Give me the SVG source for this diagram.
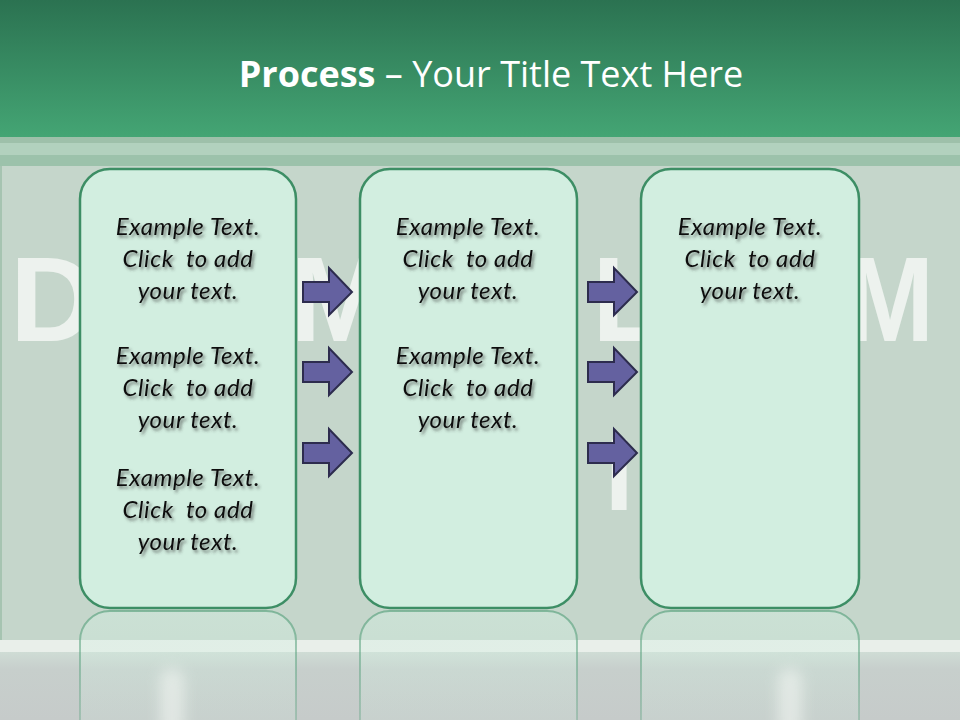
<svg xmlns="http://www.w3.org/2000/svg" width="960" height="720" viewBox="0 0 960 720">
<defs>
<linearGradient id="hdr" x1="0" y1="0" x2="0" y2="1">
<stop offset="0" stop-color="#2b7251"/>
<stop offset="1" stop-color="#44a574"/>
</linearGradient>
<linearGradient id="floor" x1="0" y1="0" x2="0" y2="1">
<stop offset="0" stop-color="#cfdcd5"/>
<stop offset="0.25" stop-color="#c7cfcc"/>
<stop offset="1" stop-color="#c6cbca"/>
</linearGradient>
<linearGradient id="refl" x1="0" y1="0" x2="0" y2="1">
<stop offset="0" stop-color="#d2eee0" stop-opacity="0.45"/>
<stop offset="1" stop-color="#d2eee0" stop-opacity="0.15"/>
</linearGradient>
<linearGradient id="reflStroke" x1="0" y1="0" x2="0" y2="1">
<stop offset="0" stop-color="#4f9c76" stop-opacity="0.6"/>
<stop offset="1" stop-color="#4f9c76" stop-opacity="0.3"/>
</linearGradient>
<filter id="shadow" x="-10%" y="-30%" width="130%" height="160%">
<feDropShadow dx="2" dy="2.5" stdDeviation="1.6" flood-color="#3a3a3a" flood-opacity="0.65"/>
</filter>
<filter id="blur" x="-80%" y="-50%" width="260%" height="200%">
<feGaussianBlur stdDeviation="7"/>
</filter>
<path id="arrow" d="M0 -10 L26 -10 L26 -24 L49 0 L26 23 L26 10 L0 10 Z"/>
</defs>
<style>
.wm{font-family:"Liberation Sans",Arial,sans-serif;font-weight:bold;font-size:120px;fill:#edf2ee}
.wm2{font-family:"Liberation Sans",Arial,sans-serif;font-weight:bold;font-size:102px;fill:#edf2ee}
.box{fill:#d2eee0;stroke:#3d8e65;stroke-width:2.5}
.rbox{fill:url(#refl);stroke:url(#reflStroke);stroke-width:2}
.arr{fill:#6461a0;stroke:#2d2c4e;stroke-width:2;stroke-linejoin:miter}
.t{font-family:Lato,"Open Sans",sans-serif;font-style:italic;font-size:24px;letter-spacing:0.6px;fill:#111;text-anchor:middle;filter:url(#shadow)}
.title{font-family:"Open Sans","Noto Sans",sans-serif;font-size:36px;fill:#ffffff}
</style>

<!-- background -->
<rect x="0" y="0" width="960" height="720" fill="#c5d6cb"/>
<rect x="0" y="0" width="960" height="137" fill="url(#hdr)"/>
<rect x="0" y="137" width="960" height="6" fill="#9ec0aa"/>
<rect x="0" y="143" width="960" height="12" fill="#b2d1be"/>
<rect x="0" y="155" width="960" height="11" fill="#9cc2ab"/>
<rect x="0" y="166" width="2" height="474" fill="#a6c4b1"/>
<rect x="0" y="652" width="960" height="68" fill="url(#floor)"/>
<rect x="0" y="640" width="960" height="12" fill="#e9efea"/>

<!-- watermark -->
<g id="watermark">
<text class="wm" x="10" y="341">D</text>
<text class="wm" x="290" y="341">M</text>
<text class="wm" x="592" y="341">L</text>
<text class="wm" x="846" y="341" textLength="88" lengthAdjust="spacingAndGlyphs">M</text>
<text class="wm2" x="273" y="510">I</text>
<text class="wm2" x="605" y="510">I</text>
</g>

<!-- title -->
<g id="title">
<text class="title" x="491" y="87" text-anchor="middle"><tspan font-weight="bold">Process</tspan>  – Your Title Text Here</text>
</g>

<!-- reflections -->
<g id="reflections">
<path class="rbox" d="M80 725 L80 641 A30 30 0 0 1 110 611 L266 611 A30 30 0 0 1 296 641 L296 725"/>
<path class="rbox" d="M360 725 L360 641 A30 30 0 0 1 390 611 L547 611 A30 30 0 0 1 577 641 L577 725"/>
<path class="rbox" d="M641 725 L641 641 A30 30 0 0 1 671 611 L829 611 A30 30 0 0 1 859 641 L859 725"/>
<rect x="160" y="668" width="24" height="70" rx="12" fill="#f2f6f2" opacity="0.6" filter="url(#blur)"/>
<rect x="778" y="668" width="24" height="70" rx="12" fill="#f2f6f2" opacity="0.6" filter="url(#blur)"/>
</g>

<!-- nodes -->
<g id="node1">
<rect class="box" x="80" y="169" width="216" height="439" rx="30" ry="30"/>
<text class="t" x="188" xml:space="preserve"><tspan x="188" y="235">Example Text.</tspan><tspan x="188" y="267">Click  to add</tspan><tspan x="188" y="299">your text.</tspan></text>
<text class="t" x="188" xml:space="preserve"><tspan x="188" y="364">Example Text.</tspan><tspan x="188" y="396">Click  to add</tspan><tspan x="188" y="428">your text.</tspan></text>
<text class="t" x="188" xml:space="preserve"><tspan x="188" y="486">Example Text.</tspan><tspan x="188" y="518">Click  to add</tspan><tspan x="188" y="550">your text.</tspan></text>
</g>
<g id="node2">
<rect class="box" x="360" y="169" width="217" height="439" rx="30" ry="30"/>
<text class="t" x="468" xml:space="preserve"><tspan x="468" y="235">Example Text.</tspan><tspan x="468" y="267">Click  to add</tspan><tspan x="468" y="299">your text.</tspan></text>
<text class="t" x="468" xml:space="preserve"><tspan x="468" y="364">Example Text.</tspan><tspan x="468" y="396">Click  to add</tspan><tspan x="468" y="428">your text.</tspan></text>
</g>
<g id="node3">
<rect class="box" x="641" y="169" width="218" height="439" rx="30" ry="30"/>
<text class="t" x="750" xml:space="preserve"><tspan x="750" y="235">Example Text.</tspan><tspan x="750" y="267">Click  to add</tspan><tspan x="750" y="299">your text.</tspan></text>
</g>

<!-- connectors -->
<g id="connectors">
<use href="#arrow" class="arr" x="303" y="292"/>
<use href="#arrow" class="arr" x="303" y="372"/>
<use href="#arrow" class="arr" x="303" y="453"/>
<use href="#arrow" class="arr" x="588" y="292"/>
<use href="#arrow" class="arr" x="588" y="372"/>
<use href="#arrow" class="arr" x="588" y="453"/>
</g>
</svg>
